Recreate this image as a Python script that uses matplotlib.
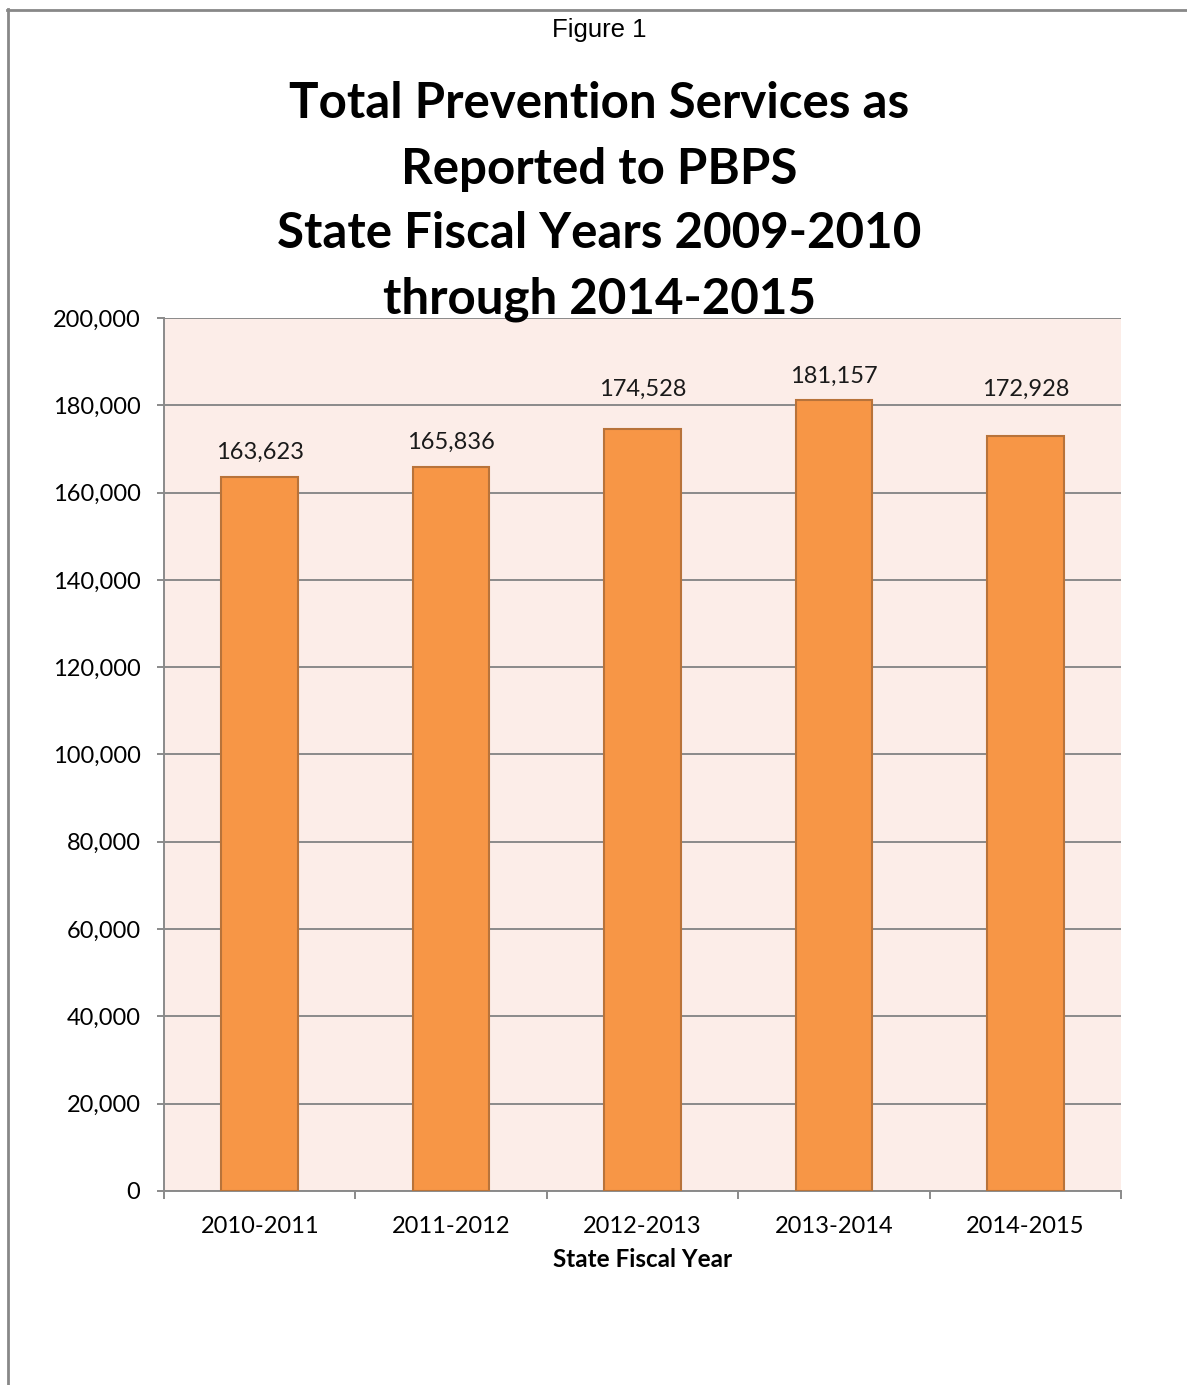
import matplotlib
matplotlib.use("Agg")
import matplotlib.pyplot as plt
from matplotlib.lines import Line2D
from matplotlib.ticker import FuncFormatter, FixedLocator

years = ["2010-2011", "2011-2012", "2012-2013", "2013-2014", "2014-2015"]
services = [163623, 165836, 174528, 181157, 172928]
title_lines = ["Total Prevention Services as", "Reported to PBPS",
               "State Fiscal Years 2009-2010", "through 2014-2015"]
# extra lift (points) so labels clear the 180,000 gridline
label_lift = [0, 0, 11, 0, 16]

plt.rcParams["font.family"] = ["Lato", "DejaVu Sans"]

fig = plt.figure(figsize=(11.87, 13.85), dpi=100)
ax = fig.add_axes([0.1382, 0.1401, 0.8062, 0.6303])
ax.set_facecolor("#FCEDE8")

x = range(len(years))
ax.bar(x, services, width=0.4, color="#F79646", edgecolor="#B8733A", linewidth=1.5, zorder=3)
for i, v, lift in zip(x, services, label_lift):
    ax.annotate(f"{v:,}", (i, v), xytext=(0, 10 + lift), textcoords="offset points",
                ha="center", va="bottom", fontsize=17, color="#1a1a1a")

ax.set_xlim(-0.5, len(years) - 0.5)
ax.set_ylim(0, 200000)
ax.set_yticks(range(0, 200001, 20000))
ax.yaxis.set_major_formatter(FuncFormatter(lambda v, p: f"{int(v):,}"))
ax.grid(axis="y", color="#8A8A8A", linewidth=1.4, zorder=0)

ax.set_xticks(list(x))
ax.set_xticklabels(years)
ax.xaxis.set_minor_locator(FixedLocator([i - 0.5 for i in range(len(years) + 1)]))
ax.tick_params(axis="x", which="major", length=0, pad=18, labelsize=17)
ax.tick_params(axis="x", which="minor", length=6, width=1.4, color="#8A8A8A")
ax.tick_params(axis="y", length=5, width=1.4, color="#8A8A8A", pad=12, labelsize=17)
ax.set_xlabel("State Fiscal Year", fontsize=17.5, fontweight="bold", labelpad=8)

for side in ["top", "right"]:
    ax.spines[side].set_visible(False)
for side in ["left", "bottom"]:
    ax.spines[side].set_color("#8A8A8A")
    ax.spines[side].set_linewidth(1.4)

fig.text(0.505, 1 - 30 / 1385, "Figure 1", ha="center", va="center", fontsize=18.5,
         family=["Liberation Sans", "DejaVu Sans"])
for k, line in enumerate(title_lines):
    y = 1 - (104 + 65 * k) / 1385
    fig.text(0.505, y, line, ha="center", va="center", fontsize=35.5, fontweight="bold")

# frame edges at the top and left of the page
fig.add_artist(Line2D([7.5 / 1187, 7.5 / 1187], [0, 1 - 9 / 1385], color="#888888", lw=2))
fig.add_artist(Line2D([6.5 / 1187, 1], [1 - 9.5 / 1385, 1 - 9.5 / 1385], color="#888888", lw=2))

fig.savefig("out.png", dpi=100)
